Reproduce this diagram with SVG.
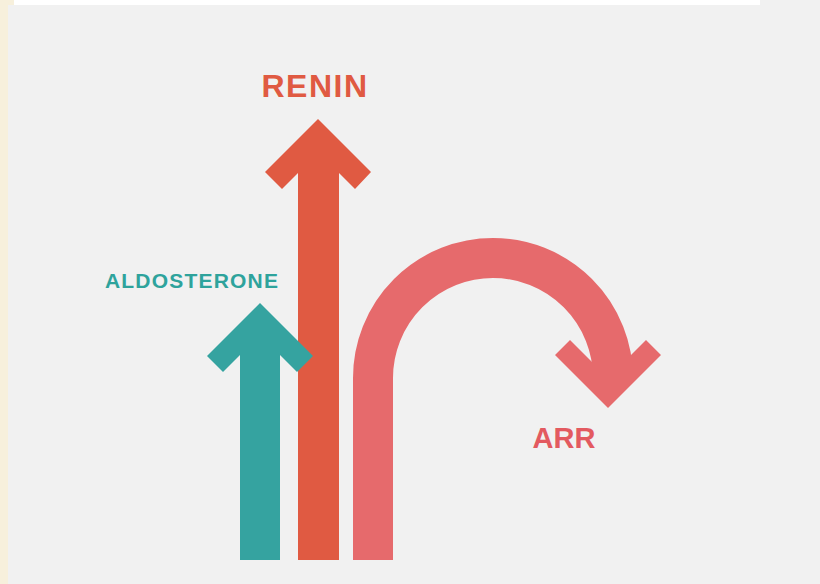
<svg xmlns="http://www.w3.org/2000/svg" width="820" height="584" viewBox="0 0 820 584">
  <style>
    .lbl { font-family: "Liberation Sans", Arial, sans-serif; font-weight: bold; text-anchor: middle; }
  </style>
  <rect x="0" y="0" width="820" height="584" fill="#f1f1f1"/>
  <rect x="0" y="0" width="8" height="584" fill="#f7f0dc"/>
  <rect x="0" y="0" width="14" height="5" fill="#f7f0dc"/>
  <rect x="14" y="0" width="746" height="5" fill="#ffffff"/>

  <g id="connectors">
    <g id="arr-arrow" fill="#e66a6c">
      <path d="M 373 560 V 378 A 120 120 0 0 1 613 378" fill="none" stroke="#e66a6c" stroke-width="40"/>
      <polygon points="608,408 555,355 570,340 608,378 646,340 661,355"/>
    </g>
    <g id="renin-arrow">
      <polygon fill="#e05a42" points="318,119 371,172 355,189 339,173 339,560 298,560 298,173 282,189 265,172"/>
    </g>
    <g id="aldosterone-arrow">
      <polygon fill="#35a3a0" points="260,303 313,356 297,372 280,355 280,560 240,560 240,355 223,372 207,356"/>
    </g>
  </g>

  <g id="renin"><text class="lbl" x="315" y="97" font-size="32" fill="#e05a42" letter-spacing="1.5">RENIN</text></g>
  <g id="aldosterone"><text class="lbl" x="192" y="288" font-size="21" fill="#2ea39c" letter-spacing="1.2">ALDOSTERONE</text></g>
  <g id="arr"><text class="lbl" x="564" y="448" font-size="29" fill="#e35a60">ARR</text></g>
</svg>
